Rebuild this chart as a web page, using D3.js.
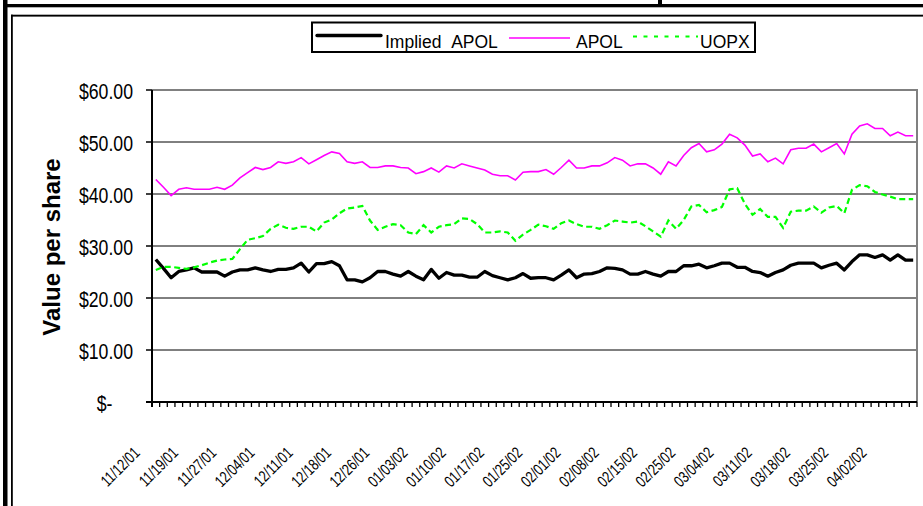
<!DOCTYPE html>
<html>
<head>
<meta charset="utf-8">
<script src="https://cdn.jsdelivr.net/npm/d3@7/dist/d3.min.js"></script>
<style>
html,body{margin:0;padding:0;background:#fff;}
svg{display:block;font-family:"Liberation Sans",Arial,sans-serif;}
</style>
</head>
<body>
<svg id="chart" width="923" height="506"></svg>
<script>
const dates = [
"11/12/01","11/13/01","11/14/01","11/15/01","11/16/01","11/19/01","11/20/01","11/21/01","11/23/01","11/26/01",
"11/27/01","11/28/01","11/29/01","11/30/01","12/03/01","12/04/01","12/05/01","12/06/01","12/07/01","12/10/01",
"12/11/01","12/12/01","12/13/01","12/14/01","12/17/01","12/18/01","12/19/01","12/20/01","12/21/01","12/24/01",
"12/26/01","12/27/01","12/28/01","12/31/01","01/02/02","01/03/02","01/04/02","01/07/02","01/08/02","01/09/02",
"01/10/02","01/11/02","01/14/02","01/15/02","01/16/02","01/17/02","01/18/02","01/22/02","01/23/02","01/24/02",
"01/25/02","01/28/02","01/29/02","01/30/02","01/31/02","02/01/02","02/04/02","02/05/02","02/06/02","02/07/02",
"02/08/02","02/11/02","02/12/02","02/13/02","02/14/02","02/15/02","02/19/02","02/20/02","02/21/02","02/22/02",
"02/25/02","02/26/02","02/27/02","02/28/02","03/01/02","03/04/02","03/05/02","03/06/02","03/07/02","03/08/02",
"03/11/02","03/12/02","03/13/02","03/14/02","03/15/02","03/18/02","03/19/02","03/20/02","03/21/02","03/22/02",
"03/25/02","03/26/02","03/27/02","03/28/02","04/01/02","04/02/02","04/03/02","04/04/02","04/05/02","04/08/02"
];
const tickLabels = ["11/12/01","11/19/01","11/27/01","12/04/01","12/11/01","12/18/01","12/26/01","01/03/02","01/10/02","01/17/02",
"01/25/02","02/01/02","02/08/02","02/15/02","02/25/02","03/04/02","03/11/02","03/18/02","03/25/02","04/02/02"];

const impliedAPOL = [
27.4,25.7,23.9,25.1,25.4,25.8,25.0,25.0,25.0,24.2,
25.0,25.4,25.4,25.8,25.4,25.1,25.5,25.5,25.8,26.7,
25.0,26.6,26.6,27.0,26.2,23.5,23.5,23.1,23.9,25.1,
25.1,24.6,24.2,25.1,24.2,23.5,25.5,23.8,24.9,24.4,
24.4,24.0,24.0,25.1,24.3,23.9,23.5,23.9,24.7,23.8,
23.9,23.9,23.5,24.4,25.4,23.9,24.6,24.7,25.1,25.8,
25.7,25.4,24.6,24.6,25.1,24.6,24.2,25.1,25.1,26.2,
26.2,26.5,25.8,26.2,26.7,26.7,25.9,25.9,25.1,24.9,
24.2,24.9,25.4,26.3,26.7,26.7,26.7,25.8,26.3,26.7,
25.4,27.0,28.3,28.3,27.8,28.3,27.3,28.3,27.3,27.3
];
const apol = [
42.8,41.3,39.7,40.9,41.2,40.9,40.9,40.9,41.3,40.9,
41.7,43.1,44.1,45.1,44.7,45.1,46.2,45.9,46.2,47.0,
45.8,46.6,47.4,48.1,47.8,46.2,45.9,46.2,45.1,45.1,
45.4,45.4,45.1,45.0,43.9,44.3,45.0,44.2,45.4,45.0,
45.8,45.4,45.0,44.6,43.8,43.5,43.5,42.7,44.2,44.3,
44.3,44.7,43.8,45.1,46.5,45.0,45.0,45.4,45.4,46.0,
47.0,46.5,45.4,45.8,45.8,45.0,43.8,46.2,45.4,47.4,
48.9,49.7,48.1,48.5,49.6,51.5,50.8,49.4,47.3,47.7,
46.2,46.9,45.8,48.5,48.8,48.8,49.6,48.1,48.9,49.7,
47.7,51.5,53.1,53.5,52.6,52.6,51.2,51.9,51.2,51.2
];
const uopx = [
25.4,26.0,26.0,25.8,25.6,25.9,26.3,26.8,27.2,27.4,
27.5,29.4,31.2,31.5,31.9,33.3,34.1,33.5,33.3,33.7,
33.7,32.8,34.5,35.1,36.3,37.2,37.4,37.7,34.9,33.1,
33.7,34.2,34.0,32.6,32.3,34.0,32.6,33.7,34.0,34.2,
35.3,35.2,34.2,32.6,32.6,32.8,32.6,31.0,32.2,33.1,
34.1,33.8,33.3,34.4,34.9,34.2,33.7,33.7,33.3,34.0,
34.9,34.7,34.5,34.7,33.8,32.8,31.8,34.9,33.3,35.0,
37.6,37.9,36.5,36.9,37.5,40.9,41.1,38.1,36.0,37.1,
35.6,35.6,33.5,36.6,36.8,36.8,37.6,36.4,37.4,37.7,
36.3,40.8,41.7,41.5,40.4,39.9,39.5,39.0,39.0,39.0
];
const yTicks = [0,10,20,30,40,50,60];
const seriesNames = ["Implied\u00a0\u00a0APOL","APOL","UOPX"];

const svg = d3.select("#chart");

// outer frame
svg.append("rect").attr("x",3).attr("y",0).attr("width",4.5).attr("height",506).attr("fill","#000");
svg.append("rect").attr("x",3).attr("y",4).attr("width",920).attr("height",3.3).attr("fill","#000");
svg.append("rect").attr("x",658).attr("y",0).attr("width",4).attr("height",4.5).attr("fill","#000");
svg.append("rect").attr("x",11).attr("y",14.7).attr("width",1.8).attr("height",492).attr("fill","#000");
svg.append("rect").attr("x",11).attr("y",14.7).attr("width",912).attr("height",1.9).attr("fill","#000");

const L = 152, R = 917, T = 90, B = 402;
const x = d3.scaleBand().domain(dates).range([L, R]).paddingInner(0).paddingOuter(0);
const y = d3.scaleLinear().domain([0, 60]).range([B, T]);
const cx = d => x(d) + x.bandwidth() / 2;

// gridlines
svg.append("g").selectAll("line").data(yTicks.filter(v => v > 0 && v < 60)).join("line")
  .attr("x1", L).attr("x2", R).attr("y1", d => y(d)).attr("y2", d => y(d))
  .attr("stroke", "#000").attr("stroke-width", 1);

// plot border (gray) top and right
svg.append("line").attr("x1", L).attr("x2", R + 1).attr("y1", y(60)).attr("y2", y(60)).attr("stroke", "#808080").attr("stroke-width", 2);
svg.append("line").attr("x1", R).attr("x2", R).attr("y1", y(60)).attr("y2", B).attr("stroke", "#808080").attr("stroke-width", 2);

// y axis
svg.append("line").attr("x1", L).attr("x2", L).attr("y1", T).attr("y2", B + 5).attr("stroke", "#000").attr("stroke-width", 2);
svg.append("g").selectAll("line").data(yTicks).join("line")
  .attr("x1", L - 6).attr("x2", L).attr("y1", d => y(d)).attr("y2", d => y(d))
  .attr("stroke", "#000").attr("stroke-width", 1.5);
const fmt = d3.format(".2f");
svg.append("g").selectAll("text").data(yTicks).join("text")
  .attr("transform", d => `translate(${d === 0 ? 112.5 : 133},${y(d) + 9}) scale(0.93,1.12)`)
  .attr("text-anchor", "end").attr("font-size", 19).attr("fill", "#000")
  .text(d => d === 0 ? "$-" : "$" + fmt(d));

// x axis
svg.append("line").attr("x1", L - 6).attr("x2", R).attr("y1", B).attr("y2", B).attr("stroke", "#000").attr("stroke-width", 2);
const bounds = dates.map(d => x(d)).concat([R]);
svg.append("g").selectAll("line").data(bounds).join("line")
  .attr("x1", d => d).attr("x2", d => d).attr("y1", B).attr("y2", B + 5)
  .attr("stroke", "#000").attr("stroke-width", 1.3);
svg.append("g").selectAll("text").data(tickLabels).join("text")
  .attr("transform", d => `translate(${cx(d) - 15},454) rotate(-45) scale(0.8,1.05)`)
  .attr("text-anchor", "end").attr("font-size", 15.5).attr("fill", "#000")
  .text(d => d);

// y title
svg.append("text").attr("transform", "translate(60,247) rotate(-90)")
  .attr("text-anchor", "middle").attr("font-size", 24).attr("font-weight", "bold").attr("fill", "#000")
  .text("Value per share");

// lines
const line = d3.line().x((v, i) => cx(dates[i])).y(v => y(v));
svg.append("path").datum(impliedAPOL).attr("d", line).attr("fill", "none")
  .attr("stroke", "#000").attr("stroke-width", 3.3).attr("stroke-linejoin", "round");
svg.append("path").datum(apol).attr("d", line).attr("fill", "none")
  .attr("stroke", "#FF00FF").attr("stroke-width", 1.6);
svg.append("path").datum(uopx).attr("d", line).attr("fill", "none")
  .attr("stroke", "#00FF00").attr("stroke-width", 2.2).attr("stroke-dasharray", "6,3.5");

// legend
const lg = svg.append("g");
lg.append("rect").attr("x", 312).attr("y", 22.5).attr("width", 443).attr("height", 29.5)
  .attr("fill", "#fff").attr("stroke", "#000").attr("stroke-width", 2);
lg.append("line").attr("x1", 317).attr("x2", 381).attr("y1", 35.5).attr("y2", 35.5).attr("stroke", "#000").attr("stroke-width", 3.3).attr("stroke-linecap","round");
lg.append("line").attr("x1", 509).attr("x2", 570).attr("y1", 38).attr("y2", 38).attr("stroke", "#FF00FF").attr("stroke-width", 1.6);
lg.append("line").attr("x1", 633).attr("x2", 698).attr("y1", 36.5).attr("y2", 36.5).attr("stroke", "#00FF00").attr("stroke-width", 2).attr("stroke-dasharray", "4,6.5");
const lgX = [385, 576, 700];
lg.selectAll("text").data(seriesNames).join("text")
  .attr("x", (d, i) => lgX[i]).attr("y", 47.5).attr("font-size", 17.5).attr("fill", "#000")
  .text(d => d);
</script>
</body>
</html>
